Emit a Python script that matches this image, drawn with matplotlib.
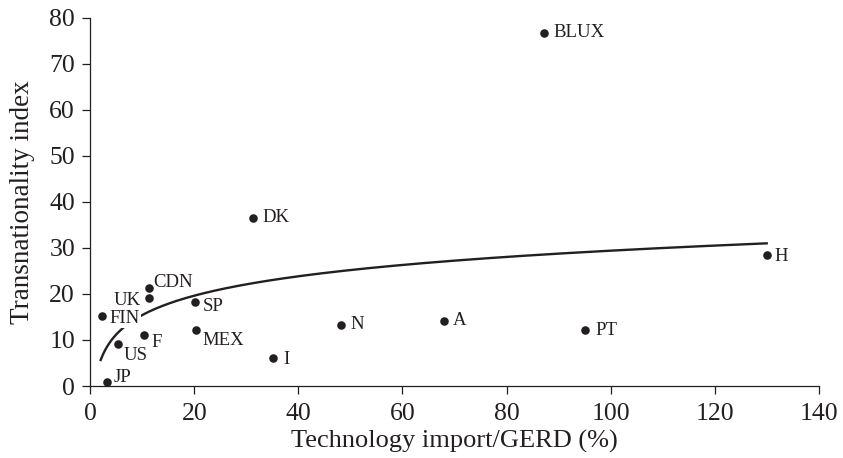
import matplotlib
matplotlib.use("Agg")
import matplotlib.pyplot as plt
import numpy as np

plt.rcParams['font.family'] = ['Liberation Serif', 'DejaVu Serif']

INK = '#231f20'

# country data: technology import / GERD (%) vs transnationality index
countries = ['JP', 'US', 'FIN', 'F', 'UK', 'CDN', 'SP', 'MEX', 'I', 'N', 'A', 'DK', 'BLUX', 'PT', 'H']
tech_import = [3.3, 5.4, 2.3, 10.4, 11.3, 11.2, 20.1, 20.3, 35.2, 48.2, 68.0, 31.2, 87.2, 95.1, 130.0]
transnat = [0.9, 9.1, 15.2, 11.1, 19.1, 21.3, 18.2, 12.1, 6.0, 13.3, 14.2, 36.5, 76.7, 12.2, 28.4]

# label offsets in pixels (dx, dy) and alignment
label_offsets = {
    'JP': (6, 4, 'left'), 'US': (5, -11, 'left'), 'FIN': (7, -2, 'left'),
    'F': (7, -8, 'left'), 'UK': (-8, -2, 'right'), 'CDN': (5, 5, 'left'),
    'SP': (8, -4, 'left'), 'MEX': (7, -10, 'left'), 'I': (10, -1, 'left'),
    'N': (9, 0, 'left'), 'A': (9, 0, 'left'), 'DK': (10, 0, 'left'),
    'BLUX': (9, 0, 'left'), 'PT': (10, -1, 'left'), 'H': (8, -1, 'left'),
}

# logarithmic trend: y = a + b*ln(x)
trend_a, trend_b = 1.44, 6.07
trend_x = np.linspace(2.0, 130.0, 300)
trend_y = trend_a + trend_b * np.log(trend_x)

fig = plt.figure(figsize=(8.43, 4.58), dpi=100)
ax = fig.add_axes([0.1071, 0.1572, 0.8641, 0.8042])

ax.plot(trend_x, trend_y, color=INK, linewidth=1.7, zorder=2)
ax.scatter(tech_import, transnat, s=38, color=INK, zorder=4, linewidths=0)

for name, x, y in zip(countries, tech_import, transnat):
    dx, dy, ha = label_offsets[name]
    kw = {}
    if name == 'FIN':
        kw['bbox'] = dict(facecolor='white', edgecolor='none', pad=1.0)
    ax.annotate(name, (x, y), xytext=(dx, dy), textcoords='offset pixels',
                ha=ha, va='center', fontsize=13.5, color=INK, zorder=3, **kw)

ax.set_xlim(0, 140)
ax.set_ylim(0, 80)
ax.set_xticks(np.arange(0, 141, 20))
ax.set_yticks(np.arange(0, 81, 10))
ax.spines['top'].set_visible(False)
ax.spines['right'].set_visible(False)
for s in ('left', 'bottom'):
    ax.spines[s].set_color(INK)
    ax.spines[s].set_linewidth(0.9)
ax.tick_params(direction='out', length=6, width=0.9, colors=INK, labelsize=18.5)
ax.tick_params(axis='x', pad=6)
ax.tick_params(axis='y', pad=5)

ax.set_xlabel('Technology import/GERD (%)', fontsize=19, color=INK, labelpad=4)
ax.set_ylabel('Transnationality index', fontsize=19.5, color=INK, labelpad=10)

fig.savefig('out.png', dpi=100)
